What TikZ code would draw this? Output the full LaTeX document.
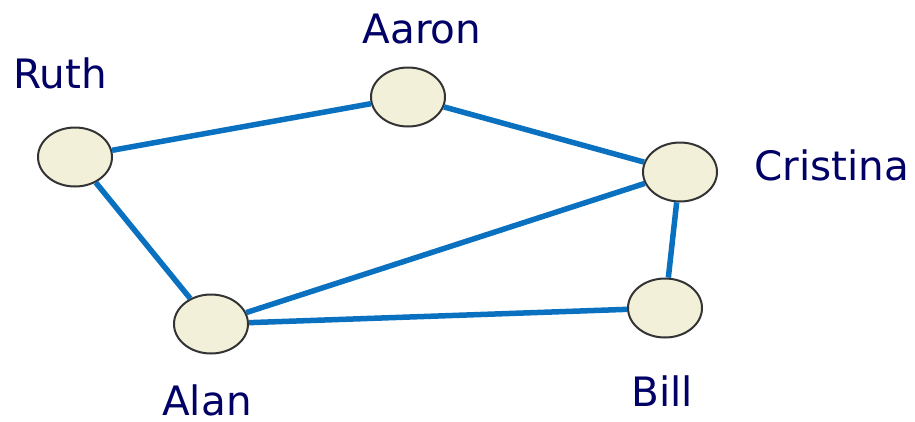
\documentclass[tikz,border=0pt]{standalone}
\usepackage{fontspec}
\setmainfont{DejaVu Sans}
\usetikzlibrary{shapes.geometric}
\definecolor{edgeblue}{HTML}{0A70C0}
\definecolor{navytext}{HTML}{000066}
\definecolor{nodefill}{HTML}{F2F0D9}
\definecolor{nodeline}{HTML}{333333}
\begin{document}
\begin{tikzpicture}[x=1pt,y=-1pt,
  person/.style={ellipse,draw=nodeline,fill=nodefill,line width=2pt,minimum width=74pt,minimum height=59pt,inner sep=0pt},
  tie/.style={draw=edgeblue,line width=5.5pt},
  lbl/.style={text=navytext,font=\fontsize{40.5}{44}\selectfont,anchor=base,inner sep=0pt}]
\useasboundingbox (0,0) rectangle (915,421);
\node[person] (ruth) at (75,157) {};
\node[person] (aaron) at (408,97) {};
\node[person] (cristina) at (680,172) {};
\node[person] (bill) at (665,308) {};
\node[person] (alan) at (211,324) {};
\node[lbl] (lruth) at (60,88) {Ruth};
\node[lbl] (laaron) at (422,43) {Aaron};
\node[lbl] (lcristina) at (832,180) {Cristina};
\node[lbl] (lbill) at (662,406) {Bill};
\node[lbl] (lalan) at (207,415) {Alan};
\path[tie] (ruth) -- (aaron);
\path[tie] (aaron) -- (cristina);
\path[tie] (ruth) -- (alan);
\path[tie] (alan) -- (cristina);
\path[tie] (alan) -- (bill);
\path[tie] (cristina) -- (bill);
\end{tikzpicture}
\end{document}
